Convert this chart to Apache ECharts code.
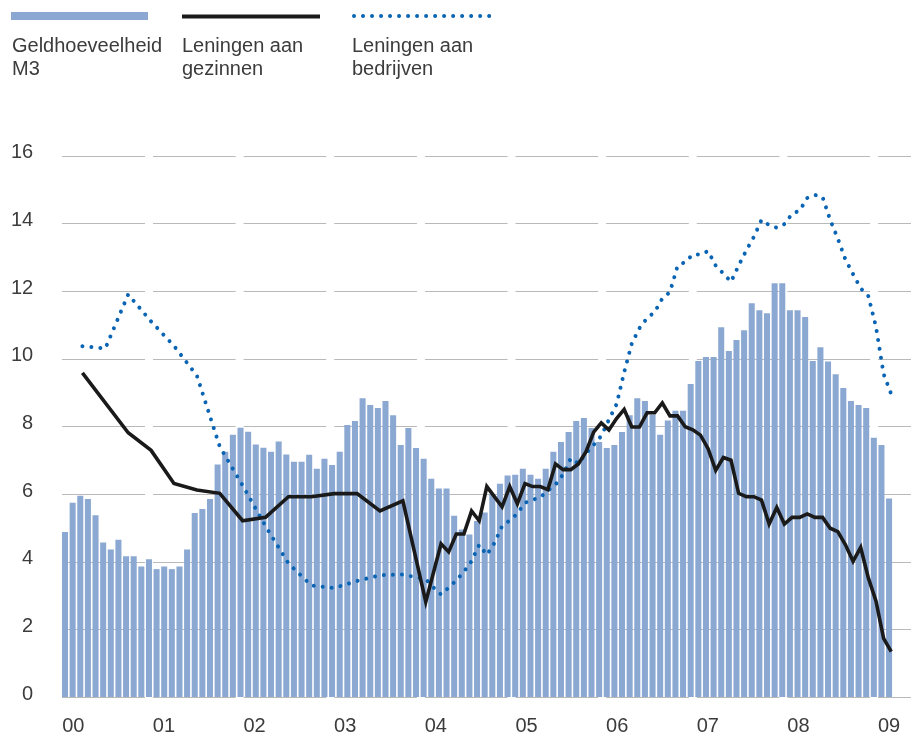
<!DOCTYPE html>
<html><head><meta charset="utf-8">
<script src="https://cdn.jsdelivr.net/npm/echarts@6/dist/echarts.min.js"></script>
<style>html,body{margin:0;padding:0;background:#fff}#c{width:911px;height:736px}</style>
</head><body><div id="c"></div>
<script>
// ---- data ----
const yearLabels = ['00','01','02','03','04','05','06','07','08','09'];
const yTicks = [0,2,4,6,8,10,12,14,16];
const months = [];
for (let i = 0; i < 109; i++) {
  const y = 2000 + Math.floor(i / 12), mo = (i % 12) + 1;
  months.push(y + '-' + (mo < 10 ? '0' : '') + mo);
}
const m3Values = [
  4.88,5.74,5.95,5.85,5.37,4.57,4.36,4.65,4.16,4.16,3.86,4.07,
  3.78,3.86,3.78,3.86,4.36,5.44,5.56,5.85,6.87,7.25,7.75,7.96,
  7.84,7.46,7.37,7.25,7.55,7.17,6.95,6.95,7.16,6.75,7.04,6.86,
  7.25,8.04,8.16,8.83,8.63,8.54,8.75,8.33,7.45,7.95,7.36,7.04,
  6.45,6.16,6.16,5.36,4.95,4.80,5.20,5.45,6.00,6.30,6.55,6.57,
  6.75,6.57,6.45,6.75,7.25,7.54,7.83,8.16,8.25,7.95,7.54,7.36,
  7.45,7.83,8.33,8.83,8.75,8.34,7.75,8.17,8.46,8.46,9.25,9.93,
  10.05,10.05,10.93,10.23,10.55,10.84,11.64,11.43,11.34,12.23,12.23,11.43,
  11.43,11.23,9.93,10.34,9.92,9.54,9.13,8.75,8.63,8.54,7.66,7.45,
  5.87
];
const gezMonths = [2,8,11,14,17,20,23,26,29,32,35,38,41,44,47,49,50,51,52,53,54,55,57,58,59,60,61,62,63,64,65,66,67,68,69,70,71,72,73,74,75,76,77,78,79,80,81,82,83,84,85,86,87,88,89,90,91,92,93,94,95,96,97,98,99,100,101,102,103,104,105,106,107,108];
const gezValues = [9.58,7.81,7.29,6.31,6.12,6.02,5.21,5.31,5.92,5.92,6.01,6.01,5.50,5.80,2.81,4.53,4.29,4.82,4.82,5.50,5.21,6.22,5.62,6.22,5.71,6.31,6.22,6.22,6.13,6.89,6.72,6.72,6.89,7.25,7.83,8.10,7.89,8.23,8.50,7.98,7.98,8.40,8.40,8.69,8.31,8.31,7.99,7.90,7.74,7.34,6.70,7.08,7.00,6.02,5.92,5.92,5.82,5.11,5.60,5.11,5.31,5.31,5.41,5.31,5.31,4.99,4.89,4.50,4.01,4.42,3.52,2.84,1.73,1.34];
const bedMonths = [2,5,8,11,14,17,20,23,26,29,32,35,38,41,44,47,48,49,50,51,52,53,54,55,56,57,58,59,60,61,62,63,64,65,66,67,68,69,70,71,72,73,74,75,76,77,78,79,80,81,82,83,84,85,86,87,88,89,90,91,92,93,94,95,96,97,98,99,100,101,102,103,104,105,106,107,108];
const bedValues = [10.37,10.30,11.90,11.10,10.38,9.50,7.40,6.25,5.05,3.95,3.30,3.22,3.43,3.60,3.62,3.48,3.24,3.03,3.23,3.45,3.70,4.02,4.50,4.20,4.55,5.05,5.22,5.42,5.74,5.83,5.90,6.10,6.28,6.58,7.05,6.90,7.20,7.45,7.72,8.20,8.65,9.60,10.45,10.90,11.20,11.38,11.78,11.97,12.74,12.86,13.08,13.08,13.18,12.75,12.52,12.27,12.75,13.20,13.60,14.10,13.95,13.87,13.98,14.28,14.38,14.75,14.84,14.78,14.10,13.55,12.93,12.50,12.08,11.85,10.95,9.55,8.95];
const legendLabels = ['Geldhoeveelheid\nM3', 'Leningen aan\ngezinnen', 'Leningen aan\nbedrijven'];

// ---- styles ----
const FONT = "'Liberation Sans', Arial, Helvetica, sans-serif";
const FS = 20;
const TXT = '#3c3c3c';
const BAR = '#8ba8d2';
const BLACK = '#1a1a1a';
const BLUE = '#0a64b4';
const GRIDC = '#b9b9b9';

const chart = echarts.init(document.getElementById('c'), null, {renderer: 'canvas'});
const option = {
  animation: false,
  backgroundColor: '#fff',
  grid: {left: 61.2, right: 18.1, top: 155.7, bottom: 36.3, containLabel: false},
  xAxis: [
    {type: 'category', data: months, boundaryGap: true,
     axisLine: {show: false}, axisTick: {show: false}, axisLabel: {show: false}, splitLine: {show: false}},
    {type: 'value', min: -0.78, max: 108.22, show: false},
    {type: 'value', min: -0.1335, max: 9.0424, position: 'bottom',
     axisLine: {show: false}, axisTick: {show: false}, splitLine: {show: false},
     axisLabel: {show: true, customValues: yearLabels.map((_, i) => i),
       formatter: v => yearLabels[Math.round(v)], fontFamily: FONT, fontSize: FS, color: TXT, margin: 19}}
  ],
  yAxis: {type: 'value', min: 0, max: 16, interval: 2,
    axisLine: {show: false}, axisTick: {show: false}, splitLine: {show: false},
    axisLabel: {fontFamily: FONT, fontSize: FS, color: TXT, margin: 28, align: 'right',
      verticalAlign: 'bottom', lineHeight: 6}},
  series: [
    {type: 'bar', name: 'M3', xAxisIndex: 0, data: m3Values, barCategoryGap: '21%',
     itemStyle: {color: BAR}, z: 2},
    {type: 'line', name: 'gezinnen', xAxisIndex: 1, data: gezMonths.map((m, i) => [m, gezValues[i]]),
     symbol: 'none', lineStyle: {color: BLACK, width: 3.6, join: 'miter'}, z: 4},
    {type: 'line', name: 'bedrijven', xAxisIndex: 1, data: bedMonths.map((m, i) => [m, bedValues[i]]),
     symbol: 'none', lineStyle: {color: BLUE, width: 4, type: [0.01, 9], cap: 'round'}, z: 3}
  ]
};
chart.setOption(option);

// grid lines with small gaps at year boundaries, legend
const g = [];
const gapXs = [];
for (let k = 0; k < 9; k++) gapXs.push(chart.convertToPixel({xAxisIndex: 2}, k + 0.835));
const xStart = 62, xEnd = 911, halfGap = 4;
yTicks.forEach(t => {
  const y = Math.round(chart.convertToPixel({yAxisIndex: 0}, t)) + 0.5;
  let x0 = xStart;
  gapXs.forEach(gx => {
    g.push({type: 'line', z: 0, silent: true, shape: {x1: x0, y1: y, x2: gx - halfGap, y2: y}, style: {stroke: GRIDC, lineWidth: 1.2}});
    x0 = gx + halfGap;
  });
  g.push({type: 'line', z: 0, silent: true, shape: {x1: x0, y1: y, x2: xEnd, y2: y}, style: {stroke: GRIDC, lineWidth: 1.2}});
});
// legend
g.push({type: 'rect', z: 5, shape: {x: 11, y: 12, width: 137, height: 8}, style: {fill: BAR}});
g.push({type: 'line', z: 5, shape: {x1: 182, y1: 16.5, x2: 320, y2: 16.5}, style: {stroke: BLACK, lineWidth: 4}});
g.push({type: 'line', z: 5, shape: {x1: 354, y1: 16, x2: 493, y2: 16}, style: {stroke: BLUE, lineWidth: 4, lineDash: [0.01, 9], lineCap: 'round'}});
const lx = [12, 182, 352];
legendLabels.forEach((t, i) => {
  g.push({type: 'text', z: 5, x: lx[i], y: 35, style: {text: t, fill: TXT, font: FS + 'px ' + FONT, lineHeight: 23, verticalAlign: 'top', align: 'left'}});
});
chart.setOption({graphic: g});
</script>
</body></html>
